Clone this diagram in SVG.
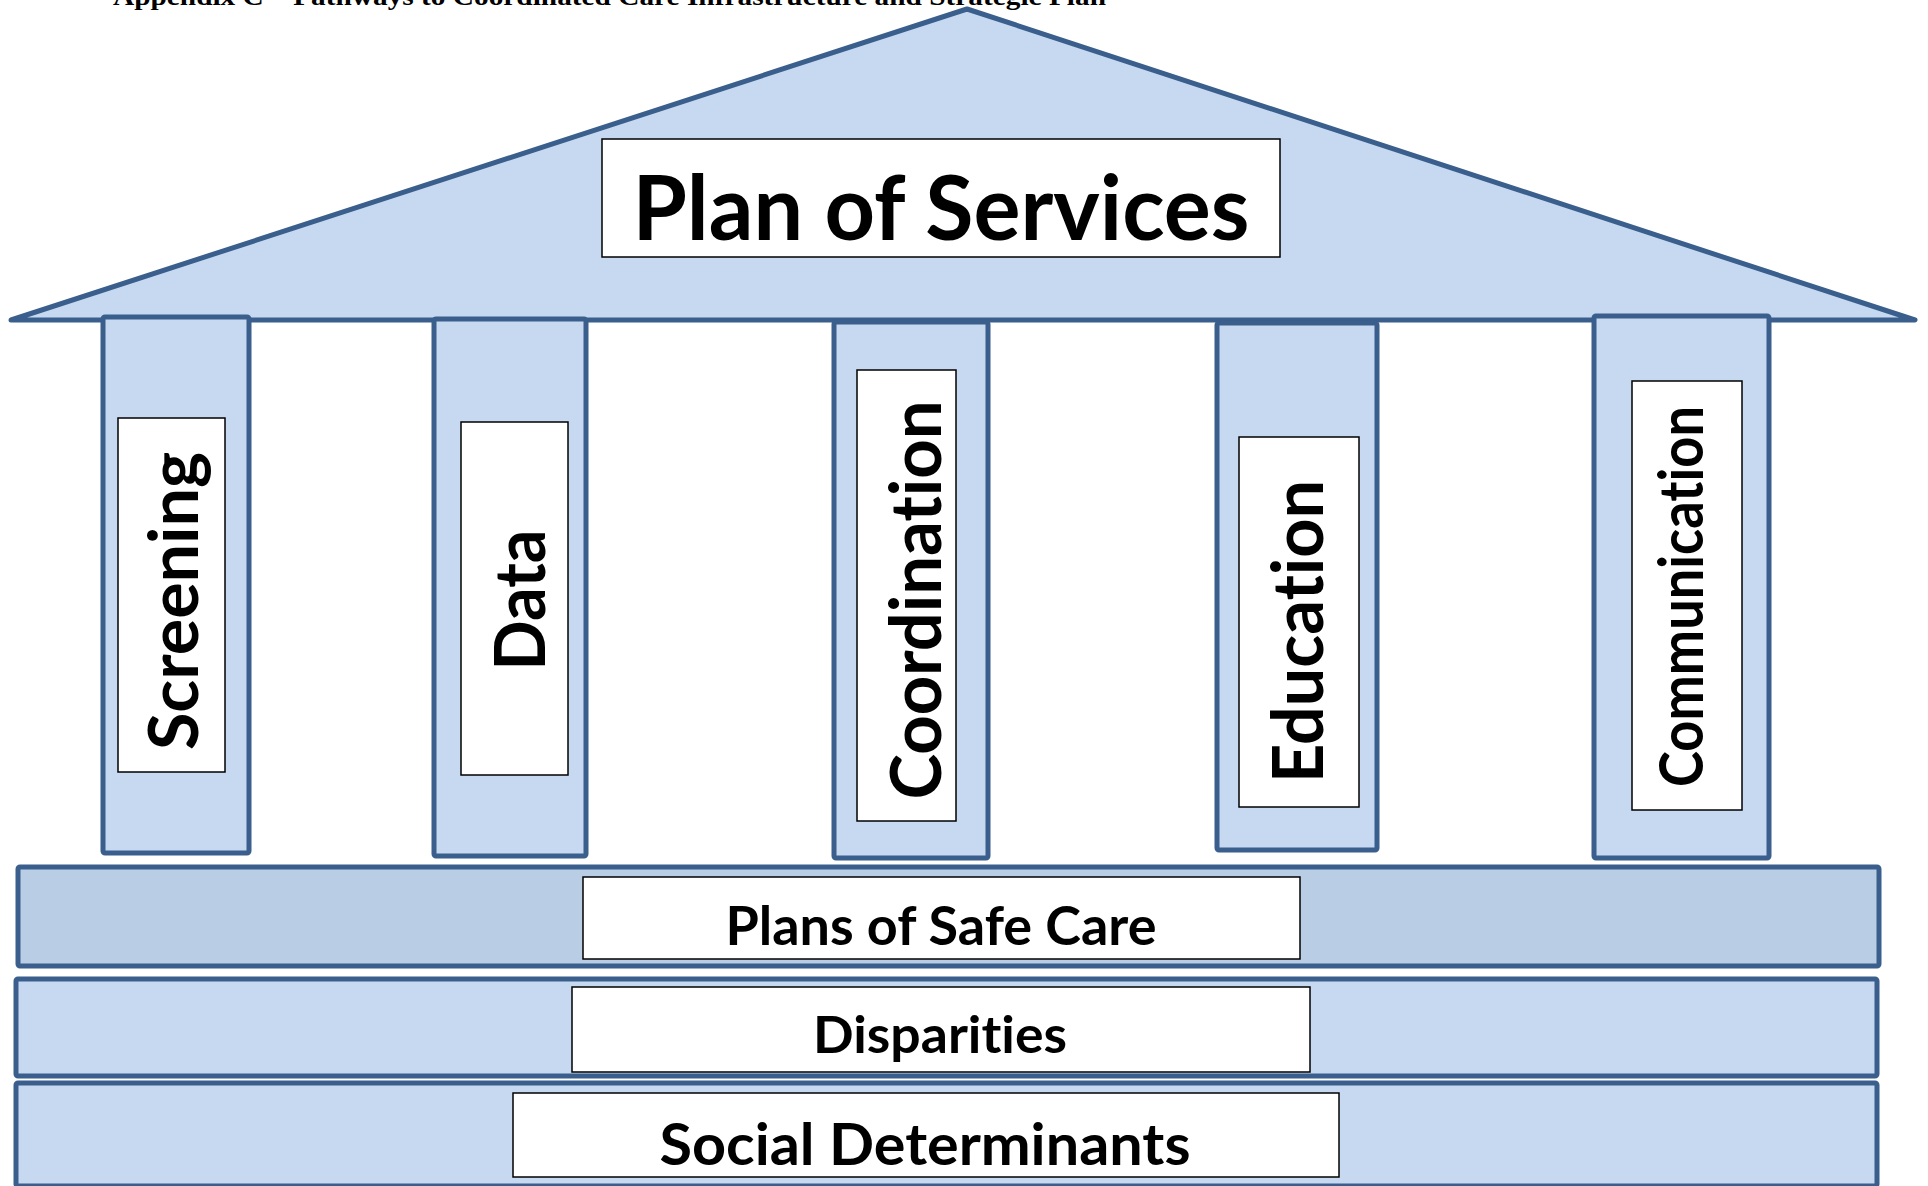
<svg xmlns="http://www.w3.org/2000/svg" width="1928" height="1186" viewBox="0 0 1928 1186">
<style>
.shape{fill:#C6D9F1;stroke:#3A5F8C;stroke-width:5;stroke-linejoin:round}
.dark{fill:#B9CDE5}
.box{fill:#FFFFFF;stroke:#000000;stroke-width:1.5}
.lbl{font-family:Lato,"Open Sans","Liberation Sans",sans-serif;font-weight:bold;fill:#000000;text-anchor:middle;font-variant-ligatures:none}
.hdr{font-family:"Liberation Serif","Times New Roman",serif;font-weight:bold;font-size:26px;fill:#000000;text-anchor:middle}
</style>
<rect width="1928" height="1186" fill="#FFFFFF"/>
<text class="hdr" x="609.5" y="5" textLength="993" lengthAdjust="spacingAndGlyphs">Appendix C – Pathways to Coordinated Care Infrastructure and Strategic Plan</text>
<g id="roof">
<polygon class="shape" points="11,320 967,9 1915,320"/>
<rect class="box" x="602" y="139" width="678" height="118"/>
<text class="lbl" x="941" y="240" font-size="89" textLength="617" lengthAdjust="spacingAndGlyphs">Plan of Services</text>
</g>
<g id="pillar-screening">
<rect class="shape" x="103" y="317" width="146" height="536" rx="2"/>
<rect class="box" x="118" y="418" width="107" height="354"/>
<text class="lbl" transform="translate(198,601) rotate(-90)" font-size="69" textLength="298" lengthAdjust="spacingAndGlyphs">Screening</text>
</g>
<g id="pillar-data">
<rect class="shape" x="434" y="319" width="152" height="537" rx="2"/>
<rect class="box" x="461" y="422" width="107" height="353"/>
<text class="lbl" transform="translate(545,600) rotate(-90)" font-size="70" textLength="141" lengthAdjust="spacingAndGlyphs">Data</text>
</g>
<g id="pillar-coordination">
<rect class="shape" x="834" y="322" width="154" height="536" rx="2"/>
<rect class="box" x="857" y="370" width="99" height="451"/>
<text class="lbl" transform="translate(941,600) rotate(-90)" font-size="70" textLength="399" lengthAdjust="spacingAndGlyphs">Coordination</text>
</g>
<g id="pillar-education">
<rect class="shape" x="1217" y="323" width="160" height="527" rx="2"/>
<rect class="box" x="1239" y="437" width="120" height="370"/>
<text class="lbl" transform="translate(1323,631.5) rotate(-90)" font-size="70" textLength="303" lengthAdjust="spacingAndGlyphs">Education</text>
</g>
<g id="pillar-communication">
<rect class="shape" x="1594" y="316" width="175" height="542" rx="2"/>
<rect class="box" x="1632" y="381" width="110" height="429"/>
<text class="lbl" transform="translate(1703,596.5) rotate(-90)" font-size="61" textLength="381" lengthAdjust="spacingAndGlyphs">Communication</text>
</g>
<g id="band-safe-care">
<rect class="shape dark" x="18" y="867" width="1861" height="99" rx="2"/>
<rect class="box" x="583" y="877" width="717" height="82"/>
<text class="lbl" x="941" y="945" font-size="53" textLength="431" lengthAdjust="spacingAndGlyphs">Plans of Safe Care</text>
</g>
<g id="band-disparities">
<rect class="shape" x="16" y="979" width="1861" height="97" rx="2"/>
<rect class="box" x="572" y="987" width="738" height="85"/>
<text class="lbl" x="940" y="1053" font-size="52" textLength="254" lengthAdjust="spacingAndGlyphs">Disparities</text>
</g>
<g id="band-social">
<rect class="shape" x="16" y="1083" width="1861" height="103" rx="2"/>
<rect class="box" x="513" y="1093" width="826" height="84"/>
<text class="lbl" x="925" y="1165" font-size="57" textLength="531" lengthAdjust="spacingAndGlyphs">Social Determinants</text>
</g>
<g id="connectors"/>
</svg>
